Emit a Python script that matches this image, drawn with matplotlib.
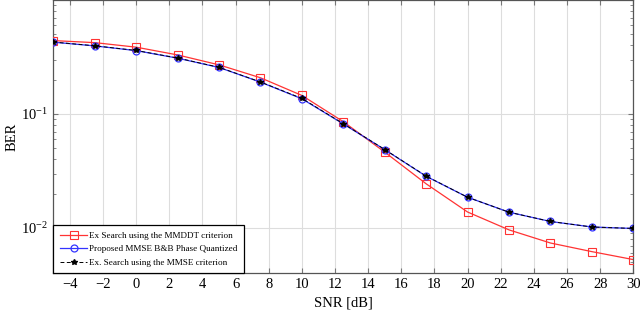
import numpy as np
import matplotlib
matplotlib.use('Agg')
import matplotlib.pyplot as plt

plt.rcParams['font.family'] = ['Liberation Serif', 'DejaVu Serif']
plt.rcParams['mathtext.fontset'] = 'stix'

# ============================================================
# data
# ============================================================
snr = [-5, -2.5, 0, 2.5, 5, 7.5, 10, 12.5, 15, 17.5, 20, 22.5, 25, 27.5, 30]

ber_mmddt = [0.441, 0.423, 0.386, 0.330, 0.270, 0.208, 0.1455, 0.0856,
             0.0463, 0.0244, 0.0138, 0.00962, 0.00738, 0.0062, 0.00528]
ber_bb = [0.427, 0.396, 0.360, 0.309, 0.256, 0.1905, 0.136, 0.0818,
          0.0487, 0.0284, 0.0186, 0.01375, 0.0114, 0.0102, 0.0099]
ber_mmse = [0.428, 0.397, 0.361, 0.310, 0.257, 0.191, 0.137, 0.0822,
            0.0488, 0.0285, 0.0186, 0.01375, 0.0114, 0.0102, 0.0099]

lbl_mmddt = 'Ex Search using the MMDDT criterion'
lbl_bb = 'Proposed MMSE B&B Phase Quantized'
lbl_mmse = 'Ex. Search using the MMSE criterion'

# ============================================================
# plot
# ============================================================
fig = plt.figure(figsize=(6.4, 3.12), dpi=100)
ax = fig.add_axes([0.0834, 0.124, 0.9061, 0.875])

ax.semilogy(snr, ber_mmddt, color='#ff3333', lw=0.9, marker='s', ms=5.5,
            mfc='none', mec='#ff3333', mew=0.8, label=lbl_mmddt, zorder=3)
ax.semilogy(snr, ber_bb, color='#3333ff', lw=0.9, marker='o', ms=5,
            mfc='none', mec='#3333ff', mew=0.9, label=lbl_bb, zorder=4)
ax.semilogy(snr, ber_mmse, color='black', lw=0.7, ls=(0, (4, 2.5)), marker='*',
            ms=4, mfc='black', mec='black', label=lbl_mmse, zorder=5)

ax.set_xlim(-5, 30)
ax.set_ylim(0.004, 0.995)
ax.set_xticks(np.arange(-4, 31, 2))
ax.grid(True, which='major', color='#dddddd', lw=0.8)
ax.tick_params(which='both', direction='in', top=True, right=True,
               labelsize=10.5, color='#777777')
ax.tick_params(which='major', length=3.5)
ax.tick_params(which='minor', length=2)
for s in ax.spines.values():
    s.set_color('#555555')
    s.set_linewidth(0.9)

ax.set_xlabel('SNR [dB]', fontsize=10.5, labelpad=4)
ax.set_ylabel('BER', fontsize=10.5, labelpad=2)

leg = ax.legend(loc='lower left', borderaxespad=0, fontsize=6.6, fancybox=False,
                framealpha=1, edgecolor='black', handlelength=3.0,
                handletextpad=0.2, borderpad=0.7, labelspacing=0.55)
leg.get_frame().set_linewidth(0.9)

plt.savefig('out.png', dpi=100)
